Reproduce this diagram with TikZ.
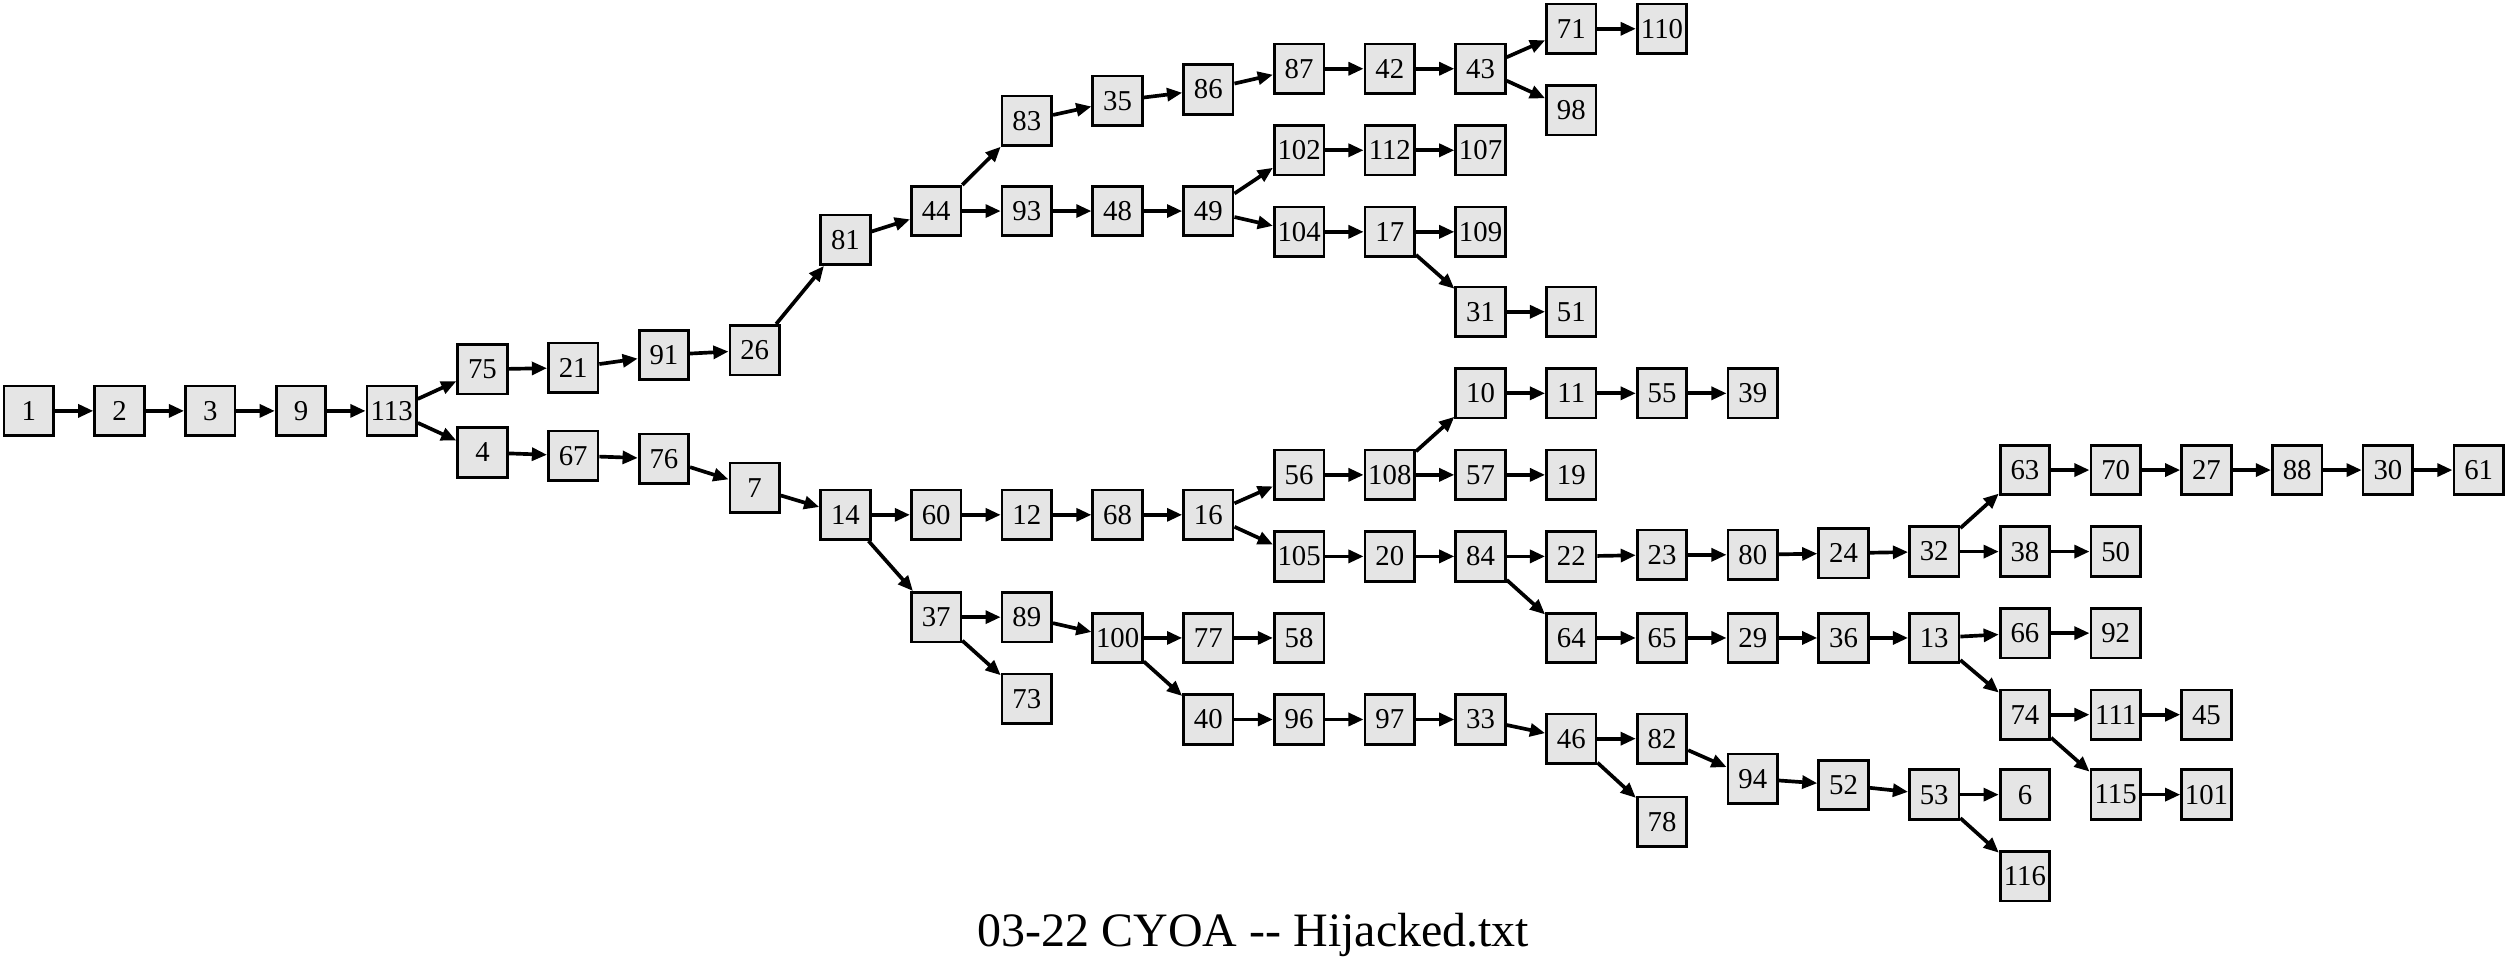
\documentclass[tikz,border=0pt]{standalone}
\usepackage{fontspec}
\setmainfont{Liberation Serif}
\usetikzlibrary{arrows.meta}
\tikzset{
  box/.style={draw=black, line width=1.7pt, fill=black!10, minimum width=31pt, minimum height=31pt, inner sep=0pt, font=\fontsize{18}{18}\selectfont},
  edge/.style={line width=2.3pt, -{Triangle[length=9.5pt,width=8pt]}},
  ttl/.style={font=\fontsize{30}{30}\selectfont, inner sep=0pt, anchor=base}
}
\begin{document}
\begin{tikzpicture}[x=1pt,y=-1pt]
\useasboundingbox (0,0) rectangle (1568,604);
\foreach \n/\k/\y in {1/0/257, 2/1/257, 3/2/257, 9/3/257, 113/4/257,
75/5/231, 4/5/283,
21/6/230, 67/6/285,
91/7/222, 76/7/287,
26/8/219, 7/8/305,
81/9/150, 14/9/322,
44/10/132, 60/10/322, 37/10/386,
83/11/75.5, 93/11/132, 12/11/322, 89/11/386, 73/11/437,
35/12/63, 48/12/132, 68/12/322, 100/12/399,
86/13/56, 49/13/132, 16/13/322, 77/13/399, 40/13/450,
87/14/43, 102/14/94, 104/14/145, 56/14/297, 105/14/348, 58/14/399, 96/14/450,
42/15/43, 112/15/94, 17/15/145, 108/15/297, 20/15/348, 97/15/450,
43/16/43, 107/16/94, 109/16/145, 31/16/195, 10/16/246, 57/16/297, 84/16/348, 33/16/450,
71/17/18, 98/17/69, 51/17/195, 11/17/246, 19/17/297, 22/17/348, 64/17/399, 46/17/462,
110/18/18, 55/18/246, 23/18/347, 65/18/399, 82/18/462, 78/18/514,
39/19/246, 80/19/347, 29/19/399, 94/19/487,
24/20/346, 36/20/399, 52/20/491,
32/21/345, 13/21/399, 53/21/497,
63/22/294, 38/22/345, 66/22/396, 74/22/447, 6/22/497, 116/22/548,
70/23/294, 50/23/345, 92/23/396, 111/23/447, 115/23/497,
27/24/294, 45/24/447, 101/24/497,
88/25/294, 30/26/294, 61/27/294}
  \node[box] (n\n) at ({18+56.75*\k},\y) {\n};
\foreach \a/\b in {1/2, 2/3, 3/9, 9/113, 113/75, 113/4, 75/21, 21/91, 91/26, 26/81, 81/44, 44/83, 44/93, 83/35, 35/86, 86/87, 87/42, 42/43, 43/71, 43/98, 71/110, 93/48, 48/49, 49/102, 49/104, 102/112, 112/107, 104/17, 17/109, 17/31, 31/51,
4/67, 67/76, 76/7, 7/14, 14/60, 14/37, 60/12, 12/68, 68/16, 16/56, 16/105, 56/108, 108/10, 108/57, 10/11, 11/55, 55/39, 57/19, 105/20, 20/84, 84/22, 84/64, 22/23, 23/80, 80/24, 24/32, 32/63, 32/38, 63/70, 70/27, 27/88, 88/30, 30/61, 38/50, 64/65, 65/29, 29/36, 36/13, 13/66, 13/74, 66/92, 74/111, 74/115, 111/45, 115/101,
37/89, 37/73, 89/100, 100/77, 100/40, 77/58, 40/96, 96/97, 97/33, 33/46, 46/82, 46/78, 82/94, 94/52, 52/53, 53/6, 53/116}
  \draw[edge] (n\a) -- (n\b);
\node[ttl] (title) at (784,592) {03-22 CYOA -{}- Hijacked.txt};
\end{tikzpicture}
\end{document}
